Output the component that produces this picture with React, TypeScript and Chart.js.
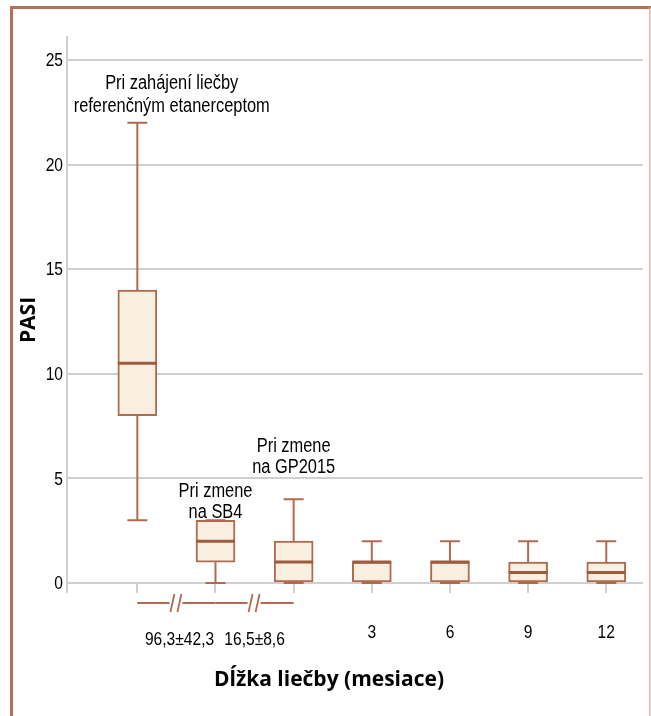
import React, { useEffect, useRef } from "react";
import { Chart, registerables } from "chart.js";

Chart.register(...registerables);

// ---- data ----
const categories = ["Pri zahájení", "SB4", "GP2015", "3", "6", "9", "12"];
const tickLabels = ["", "", "", "3", "6", "9", "12"];
const mins = [3, 0, 0, 0, 0, 0, 0];
const q1s = [8, 1, 0, 0, 0, 0, 0];
const medians = [10.5, 2, 1, 1, 1, 0.5, 0.5];
const q3s = [14, 3, 2, 1, 1, 1, 1];
const maxs = [22, 3, 4, 2, 2, 2, 2];
const yTicks = [0, 5, 10, 15, 20, 25];
const durationLabels = ["96,3±42,3", "16,5±8,6"];
const durationX = [0.54, 1.5];
const annotationTexts = [
  ["Pri zahájení liečby", "referenčným etanerceptom"],
  ["Pri zmene", "na SB4"],
  ["Pri zmene", "na GP2015"],
];
const annotationX = [0.44, 1.0, 2.0];
const annotationY = [
  [23.6, 22.5],
  [4.1, 3.1],
  [6.26, 5.26],
];
const yTitle = "PASI";
const xTitle = "Dĺžka liečby (mesiace)";

const SANS = "'Liberation Sans', Arial, sans-serif";
const NARROW_SCALE = 0.82;
const BOLD = "'Open Sans', Lato, sans-serif";
const BROWN = "#b06a50";
const DARK_BROWN = "#a05a40";
const FILL = "#f9efe0";
const GRID = "#cfcfcf";
const TEXT = "#000000";

function narrowText(ctx: CanvasRenderingContext2D, text: string, x: number, y: number, size: number, align: CanvasTextAlign, baseline: CanvasTextBaseline) {
  ctx.save();
  ctx.translate(x, y);
  ctx.scale(NARROW_SCALE, 1);
  ctx.font = `${size}px ${SANS}`;
  ctx.fillStyle = TEXT;
  ctx.textAlign = align;
  ctx.textBaseline = baseline;
  ctx.fillText(text, 0, 0);
  ctx.restore();
}

const boxPlugin = {
  id: "boxExtras",
  beforeDraw(chart: any) {
    const ctx = chart.ctx;
    ctx.save();
    ctx.fillStyle = "#ffffff";
    ctx.fillRect(0, 0, chart.width, chart.height);
    // frame
    ctx.strokeStyle = "#b3705a";
    ctx.lineWidth = 3;
    ctx.beginPath();
    ctx.moveTo(11.5, chart.height + 2);
    ctx.lineTo(11.5, 7.5);
    ctx.lineTo(chart.width + 2, 7.5);
    ctx.stroke();
    ctx.strokeStyle = "#dfb6a6";
    ctx.lineWidth = 1.5;
    ctx.beginPath();
    ctx.moveTo(649.8, 7.5);
    ctx.lineTo(649.8, chart.height + 2);
    ctx.stroke();
    ctx.restore();
  },
  afterDatasetsDraw(chart: any) {
    const ctx = chart.ctx;
    const xs = chart.scales.x;
    const ys = chart.scales.y;
    const meta = chart.getDatasetMeta(0);
    const y0 = ys.getPixelForValue(0);
    ctx.save();

    // zero baseline over box bottoms
    ctx.strokeStyle = GRID;
    ctx.lineWidth = 2;
    ctx.beginPath();
    ctx.moveTo(chart.chartArea.left, y0);
    ctx.lineTo(chart.chartArea.right, y0);
    ctx.moveTo(chart.chartArea.left, y0);
    ctx.lineTo(chart.chartArea.left, y0 + 10);
    ctx.stroke();

    categories.forEach((_, i) => {
      const x = xs.getPixelForValue(i);
      const bw = meta.data[i].width;
      const capW = 20;
      ctx.strokeStyle = BROWN;
      ctx.lineWidth = 2;
      ctx.beginPath();
      ctx.moveTo(x, ys.getPixelForValue(q3s[i]));
      ctx.lineTo(x, ys.getPixelForValue(maxs[i]));
      ctx.moveTo(x, ys.getPixelForValue(q1s[i]));
      ctx.lineTo(x, ys.getPixelForValue(mins[i]));
      ctx.stroke();
      ctx.beginPath();
      const yMax = ys.getPixelForValue(maxs[i]);
      const yMin = ys.getPixelForValue(mins[i]);
      ctx.moveTo(x - capW / 2, yMax);
      ctx.lineTo(x + capW / 2, yMax);
      ctx.moveTo(x - capW / 2, yMin);
      ctx.lineTo(x + capW / 2, yMin);
      ctx.stroke();
      ctx.strokeStyle = DARK_BROWN;
      ctx.lineWidth = 3;
      const yMed = ys.getPixelForValue(medians[i]);
      ctx.beginPath();
      ctx.moveTo(x - bw / 2, yMed);
      ctx.lineTo(x + bw / 2, yMed);
      ctx.stroke();
    });

    // y tick labels
    yTicks.forEach((v) => {
      narrowText(ctx, String(v), chart.chartArea.left - 4, ys.getPixelForValue(v) + 1, 19, "right", "middle");
    });
    // x tick labels
    tickLabels.forEach((t, i) => {
      if (t) narrowText(ctx, t, xs.getPixelForValue(i), y0 + 55, 19, "center", "alphabetic");
    });

    // broken axis segments
    const yb = y0 + 20;
    ctx.strokeStyle = BROWN;
    ctx.lineWidth = 1.8;
    for (let k = 0; k < 2; k++) {
      const xa = xs.getPixelForValue(k);
      const xb = xs.getPixelForValue(k + 1);
      const xm = (xa + xb) / 2;
      ctx.beginPath();
      ctx.moveTo(xa, yb);
      ctx.lineTo(xm - 7, yb);
      ctx.moveTo(xm + 6, yb);
      ctx.lineTo(xb, yb);
      ctx.moveTo(xm - 6, yb + 9);
      ctx.lineTo(xm - 2, yb - 9);
      ctx.moveTo(xm + 1, yb + 9);
      ctx.lineTo(xm + 5, yb - 9);
      ctx.stroke();
    }

    // duration labels
    durationLabels.forEach((t, k) => {
      narrowText(ctx, t, xs.getPixelForValue(durationX[k]), y0 + 62, 19, "center", "alphabetic");
    });

    // annotations
    annotationTexts.forEach((lines, k) => {
      lines.forEach((line, j) => {
        narrowText(ctx, line, xs.getPixelForValue(annotationX[k]), ys.getPixelForValue(annotationY[k][j]), 20, "center", "alphabetic");
      });
    });

    // titles
    ctx.fillStyle = TEXT;
    ctx.textAlign = "center";
    ctx.textBaseline = "alphabetic";
    ctx.font = `bold 21px ${BOLD}`;
    ctx.fillText(xTitle, 329, 686);
    ctx.save();
    ctx.translate(35, 320);
    ctx.rotate(-Math.PI / 2);
    ctx.fillText(yTitle, 0, 0);
    ctx.restore();

    ctx.restore();
  },
};

export default function App() {
  const ref = useRef<HTMLCanvasElement | null>(null);
  useEffect(() => {
    if (!ref.current) return;
    const chart = new Chart(ref.current, {
      type: "bar",
      data: {
        datasets: [
          {
            data: categories.map((_, i) => ({ x: i, y: [q1s[i], q3s[i]] })) as any,
            backgroundColor: FILL,
            borderColor: BROWN,
            borderWidth: 2,
            borderSkipped: false,
            barThickness: 39,
          },
        ],
      },
      options: {
        animation: false,
        responsive: false,
        devicePixelRatio: 1,
        layout: { padding: { top: 37, right: 8, left: 0, bottom: 0 } },
        plugins: { legend: { display: false }, tooltip: { enabled: false } },
        scales: {
          x: {
            type: "linear",
            offset: false,
            min: -0.9,
            max: 6.47,
            afterBuildTicks: (scale: any) => {
              scale.ticks = categories.map((_, i) => ({ value: i }));
            },
            afterFit: (scale: any) => {
              scale.height = 133;
            },
            ticks: { display: false, autoSkip: false, maxRotation: 0 },
            grid: {
              offset: false,
              drawOnChartArea: false,
              drawTicks: true,
              tickLength: 10,
              color: GRID,
              lineWidth: 2,
            },
            border: { display: false },
          },
          y: {
            min: 0,
            max: 26.1,
            afterBuildTicks: (scale: any) => {
              scale.ticks = yTicks.map((v) => ({ value: v }));
            },
            afterFit: (scale: any) => {
              scale.width = 67;
            },
            ticks: { display: false },
            grid: { drawTicks: false, color: GRID, lineWidth: 2 },
            border: { display: true, color: GRID, width: 2 },
          },
        },
      },
      plugins: [boxPlugin],
    });
    return () => chart.destroy();
  }, []);
  return (
    <div style={{ position: "fixed", left: 0, top: 0, width: 651, height: 716 }}>
      <canvas ref={ref} width={651} height={716} style={{ width: 651, height: 716, display: "block" }} />
    </div>
  );
}
